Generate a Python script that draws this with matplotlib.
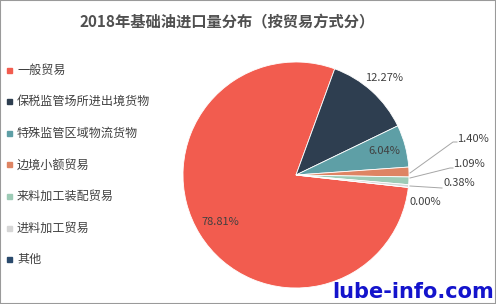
import numpy as np
import matplotlib.pyplot as plt
from matplotlib.patches import Rectangle

plt.rcParams['font.family'] = ['Noto Sans CJK SC', 'DejaVu Sans']

# data
categories = ['一般贸易', '保税监管场所进出境货物', '特殊监管区域物流货物',
              '边境小额贸易', '来料加工装配贸易', '进料加工贸易', '其他']
shares = [78.81, 12.27, 6.04, 1.40, 1.09, 0.38, 0.00]
colors = ['#F25C4F', '#2E3E50', '#5E9FA6', '#DE8463', '#9DCBB6', '#D6D6D6', '#2A4A6C']

W, H = 496, 304
fig = plt.figure(figsize=(W / 100, H / 100), dpi=100)

# pie centre (296, 175) px, radius 113 px
cx, cy, r = 296, 175, 113
ax = fig.add_axes([(cx - r) / W, (H - cy - r) / H, 2 * r / W, 2 * r / H])
wedges, _ = ax.pie(shares, colors=colors, startangle=-6.3, counterclock=False,
                   wedgeprops=dict(edgecolor='white', linewidth=0.6))
ax.set_xlim(-1, 1)
ax.set_ylim(-1, 1)
ax.axis('off')

def px(x, y):
    # pixel -> data coords of the pie axes
    return (x - cx) / r, (cy - y) / r

lab_color = '#404040'
labels = ['%.2f%%' % v for v in shares]

# big slices: label along mid angle
for i, rad in [(0, 0.79), (1, 1.16), (2, 0.81)]:
    w = wedges[i]
    ang = np.deg2rad((w.theta1 + w.theta2) / 2)
    ax.text(rad * np.cos(ang), rad * np.sin(ang), labels[i], ha='center', va='center',
            fontsize=8, color=lab_color)

# small slices: leader lines
leaders = {3: [(410, 173), (453, 142), (457, 142)],
           4: [(410, 178), (450, 168), (453, 168)],
           5: [(410, 186), (442, 188)]}
text_pos = {3: (457, 139), 4: (453, 164), 5: (443, 183), 6: (409, 202)}
for i, pts in leaders.items():
    xs, ys = zip(*[px(*p) for p in pts])
    ax.plot(xs, ys, color='#A6A6A6', lw=0.7, clip_on=False)
for i, p in text_pos.items():
    x, y = px(*p)
    ax.text(x, y, labels[i], ha='left', va='center', fontsize=8, color=lab_color)

# title
fig.text(227 / W, 1 - 22 / H, '2018年基础油进口量分布（按贸易方式分）', ha='center', va='center',
         fontsize=11, fontweight='bold', color='#505050')

# legend
for i, (name, col) in enumerate(zip(categories, colors)):
    y = 70 + 31.6 * i
    fig.patches.append(Rectangle((7 / W, 1 - (y + 2.5) / H), 5 / W, 5 / H,
                                 transform=fig.transFigure, color=col))
    fig.text(17 / W, 1 - y / H, name, ha='left', va='center', fontsize=8.7, color='#404040')

# frame
fig.patches.append(Rectangle((0, 0), 1, 1, transform=fig.transFigure, fill=False,
                             edgecolor='#9A9A9A', lw=1.5))

# site watermark
fig.text(332 / W, 1 - 292 / H, 'lube-info.com', ha='left', va='center', fontsize=15,
         fontweight='bold', color='#1414CC', family='DejaVu Sans')

fig.savefig('out.png', dpi=100)
